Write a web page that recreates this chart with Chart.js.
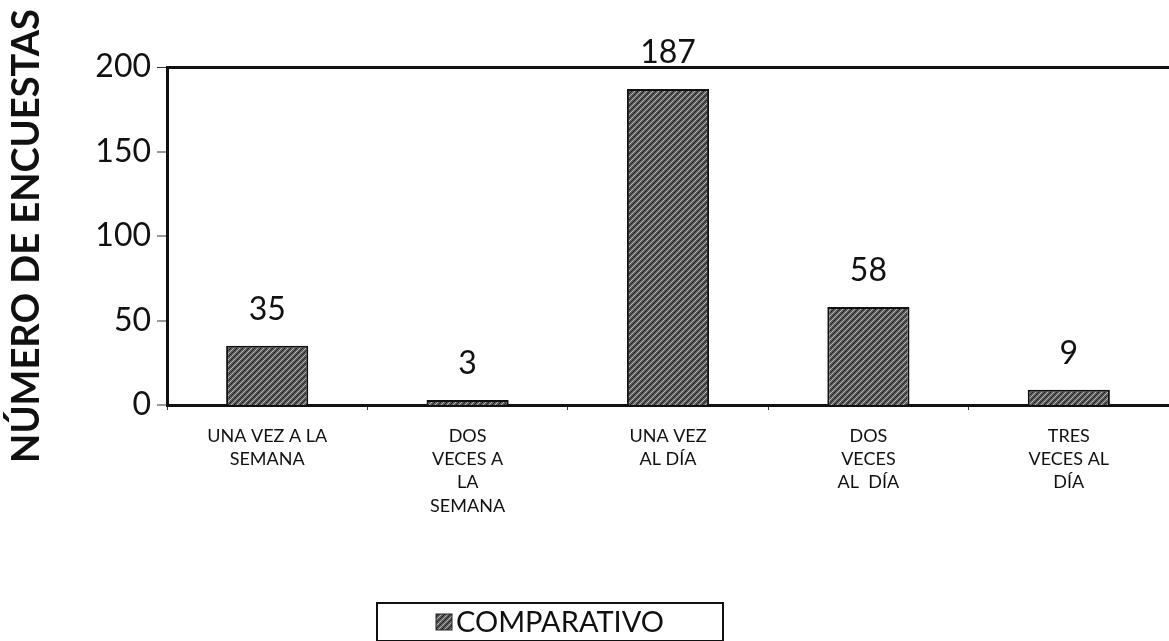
<!DOCTYPE html>
<html>
<head>
<meta charset="utf-8">
<script src="https://cdn.jsdelivr.net/npm/chart.js@4.4.1/dist/chart.umd.min.js"></script>
<style>
  html, body { margin: 0; padding: 0; background: #fff; }
  #wrap { width: 1169px; height: 641px; }
</style>
</head>
<body>
<div id="wrap"><canvas id="chart" width="1169" height="641"></canvas></div>
<script>
// 데이터
const categories = [
    ['UNA VEZ A LA', 'SEMANA'],
    ['DOS', 'VECES A', 'LA', 'SEMANA'],
    ['UNA VEZ', 'AL DÍA'],
    ['DOS', 'VECES', 'AL  DÍA'],
    ['TRES', 'VECES AL', 'DÍA']
];
const comparativo = [35, 3, 187, 58, 9];
const yTicks = [0, 50, 100, 150, 200];
const seriesLabel = 'COMPARATIVO';
const yTitle = 'NÚMERO DE ENCUESTAS';

const FONT = "Lato, 'Open Sans', sans-serif";

// 막대 무늬 (어두운 회색 사선)
function makePattern(ctx) {
    const c = document.createElement('canvas');
    c.width = 6; c.height = 6;
    const p = c.getContext('2d');
    p.fillStyle = '#5c5c5c';
    p.fillRect(0, 0, 6, 6);
    p.strokeStyle = '#b8b8b8';
    p.lineWidth = 1;
    p.beginPath();
    p.moveTo(0, 6); p.lineTo(6, 0);
    p.stroke();
    p.strokeStyle = '#222';
    p.beginPath();
    p.moveTo(-3, 6); p.lineTo(3, 0);
    p.moveTo(3, 6); p.lineTo(9, 0);
    p.stroke();
    return ctx.createPattern(c, 'repeat');
}

const ctx = document.getElementById('chart').getContext('2d');
const barPattern = makePattern(ctx);

// 막대 위 값 표시
const valueLabels = {
    id: 'valueLabels',
    afterDatasetsDraw(chart) {
        const c = chart.ctx;
        const meta = chart.getDatasetMeta(0);
        c.save();
        c.font = '32px ' + FONT;
        c.fillStyle = '#111';
        c.textAlign = 'center';
        c.textBaseline = 'bottom';
        meta.data.forEach((bar, i) => {
            c.fillText(String(comparativo[i]), bar.x, bar.y - 20);
        });
        c.restore();
    }
};

// 테두리 있는 범례
const boxLegend = {
    id: 'boxLegend',
    afterDraw(chart) {
        const c = chart.ctx;
        const x = 377, y = 603, w = 346, h = 38;
        c.save();
        c.strokeStyle = '#111';
        c.lineWidth = 2;
        c.strokeRect(x, y, w, h);
        c.font = '29px ' + FONT;
        const tw = c.measureText(seriesLabel).width;
        const sw = 16, gap = 4;
        const sx = x + (w - (sw + gap + tw)) / 2;
        const cy = y + 19;
        c.fillStyle = barPattern;
        c.fillRect(sx, cy - sw / 2, sw, sw);
        c.strokeStyle = '#222';
        c.lineWidth = 1;
        c.strokeRect(sx, cy - sw / 2, sw, sw);
        c.fillStyle = '#111';
        c.textBaseline = 'middle';
        c.fillText(seriesLabel, sx + sw + gap, cy + 1);
        c.restore();
    }
};

new Chart(ctx, {
    type: 'bar',
    data: {
        labels: categories,
        datasets: [{
            label: seriesLabel,
            data: comparativo,
            backgroundColor: barPattern,
            borderColor: '#111',
            borderWidth: 2,
            barPercentage: 0.41,
            categoryPercentage: 1.0
        }]
    },
    options: {
        responsive: false,
        animation: false,
        layout: { padding: { top: 67, right: 0, bottom: 0, left: 0 } },
        plugins: {
            legend: { display: false },
            tooltip: { enabled: false }
        },
        scales: {
            x: {
                offset: true,
                grid: {
                    offset: true,
                    drawOnChartArea: false,
                    tickLength: 5,
                    tickColor: '#333',
                    tickWidth: 1
                },
                border: { color: '#111', width: 3 },
                ticks: {
                    color: '#111',
                    font: { family: FONT, size: 18, lineHeight: 1.3 },
                    padding: 14,
                    maxRotation: 0,
                    autoSkip: false
                },
                afterFit(scale) { scale.height = 236; }
            },
            y: {
                min: 0,
                max: 200,
                afterBuildTicks(scale) { scale.ticks = yTicks.map(v => ({ value: v })); },
                grid: {
                    color: c => (c.tick && c.tick.value === 200 ? '#111' : 'rgba(0,0,0,0)'),
                    lineWidth: c => (c.tick && c.tick.value === 200 ? 3 : 0),
                    tickColor: '#333',
                    tickWidth: 1,
                    tickLength: 10
                },
                border: { color: '#111', width: 3 },
                ticks: {
                    color: '#111',
                    font: { family: FONT, size: 32 },
                    padding: 6
                },
                title: {
                    display: true,
                    text: yTitle,
                    color: '#111',
                    font: { family: FONT, size: 38, weight: 'bold' },
                    padding: { top: 4, bottom: 0 }
                },
                afterFit(scale) { scale.width = 167; }
            }
        }
    },
    plugins: [valueLabels, boxLegend]
});
</script>
</body>
</html>
